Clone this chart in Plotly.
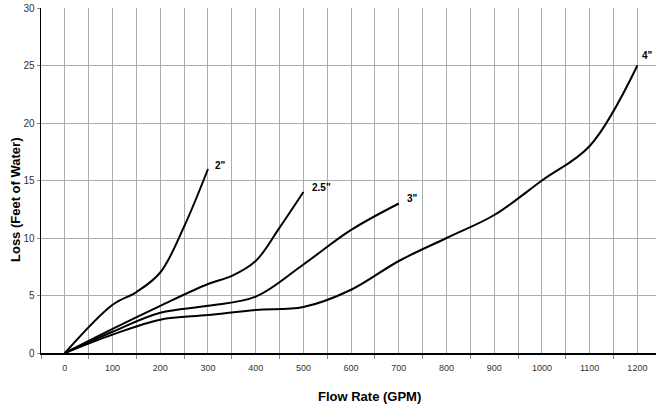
import plotly.graph_objects as go

# Data
flow_2 = [0, 100, 150, 200, 250, 300]
loss_2 = [0, 4.2, 5.3, 7.0, 11.0, 16.0]

flow_25 = [0, 100, 200, 300, 350, 400, 450, 500]
loss_25 = [0, 2.1, 4.1, 6.0, 6.7, 8.0, 10.9, 14.0]

flow_3 = [0, 100, 200, 300, 400, 500, 600, 700]
loss_3 = [0, 1.85, 3.5, 4.1, 4.9, 7.7, 10.7, 13.0]

flow_4 = [0, 100, 200, 300, 400, 500, 600, 700, 800, 900, 1000, 1100, 1200]
loss_4 = [0, 1.6, 2.9, 3.3, 3.75, 4.0, 5.5, 8.0, 10.0, 12.0, 15.0, 18.0, 25.0]

series_names = ['2"', '2.5"', '3"', '4"']
series_x = [flow_2, flow_25, flow_3, flow_4]
series_y = [loss_2, loss_25, loss_3, loss_4]

x_tick_vals = list(range(0, 1201, 100))
x_minor_vals = list(range(-50, 1251, 100))
y_tick_vals = list(range(0, 31, 5))

FONT = "Arial, Liberation Sans, sans-serif"

W, H = 656, 411
ML, MT, MB = 41, 8, 58
PW, PH = W - ML, H - MT - MB

fig = go.Figure()
for name, xs, ys in zip(series_names, series_x, series_y):
    fig.add_trace(go.Scatter(
        x=xs, y=ys, mode="lines", name=name,
        line=dict(color="black", width=2, shape="spline", smoothing=1.0),
        showlegend=False, hoverinfo="skip", cliponaxis=False,
    ))

label_shift = {'2"': (5, 4), '2.5"': (7, 5), '3"': (6, 5), '4"': (3, 10)}
for name, xs, ys in zip(series_names, series_x, series_y):
    dx, dy = label_shift[name]
    fig.add_annotation(
        x=xs[-1], y=ys[-1], text="<b>%s</b>" % name, showarrow=False,
        xanchor="left", yanchor="middle", xshift=dx, yshift=dy,
        font=dict(family=FONT, size=10, color="black"),
    )

fig.update_layout(
    width=W, height=H,
    margin=dict(l=ML, r=0, t=MT, b=MB, autoexpand=False),
    paper_bgcolor="white", plot_bgcolor="white",
    font=dict(family=FONT, color="#333333"),
)

fig.update_xaxes(
    range=[-50, 1239], automargin=False,
    tickmode="array", tickvals=x_tick_vals,
    ticks="", showgrid=True, gridcolor="#ababab", gridwidth=1,
    tickfont=dict(family=FONT, size=9, color="#333333"),
    ticklabelstandoff=6,
    showline=True, linecolor="black", linewidth=1.5,
    zeroline=False,
    minor=dict(tickmode="array", tickvals=x_minor_vals, ticks="outside",
               ticklen=4, tickcolor="#888888", showgrid=True,
               gridcolor="#ababab", gridwidth=1),
)

fig.update_yaxes(
    range=[0, 30], automargin=False,
    tickmode="array", tickvals=y_tick_vals,
    ticks="outside", ticklen=3, tickcolor="#888888",
    showgrid=True, gridcolor="#ababab", gridwidth=1,
    tickfont=dict(family=FONT, size=10, color="#333333"),
    showline=True, linecolor="black", linewidth=1.5,
    zeroline=False,
)

# Axis titles
fig.add_annotation(
    xref="paper", yref="paper", x=(369 - ML) / PW, y=-(396 - (MT + PH)) / PH,
    text="<b>Flow Rate (GPM)</b>", showarrow=False,
    xanchor="center", yanchor="middle",
    font=dict(family=FONT, size=13, color="black"),
)
fig.add_annotation(
    xref="paper", yref="paper", x=-(ML - 15) / PW, y=(MT + PH - 200) / PH,
    text="<b>Loss (Feet of Water)</b>", showarrow=False, textangle=-90,
    xanchor="center", yanchor="middle",
    font=dict(family=FONT, size=13, color="black"),
)

fig.write_html(
    "out.html",
    config={"displayModeBar": False, "staticPlot": True},
    post_script="document.body.style.margin='0';document.body.style.overflow='hidden';",
)
